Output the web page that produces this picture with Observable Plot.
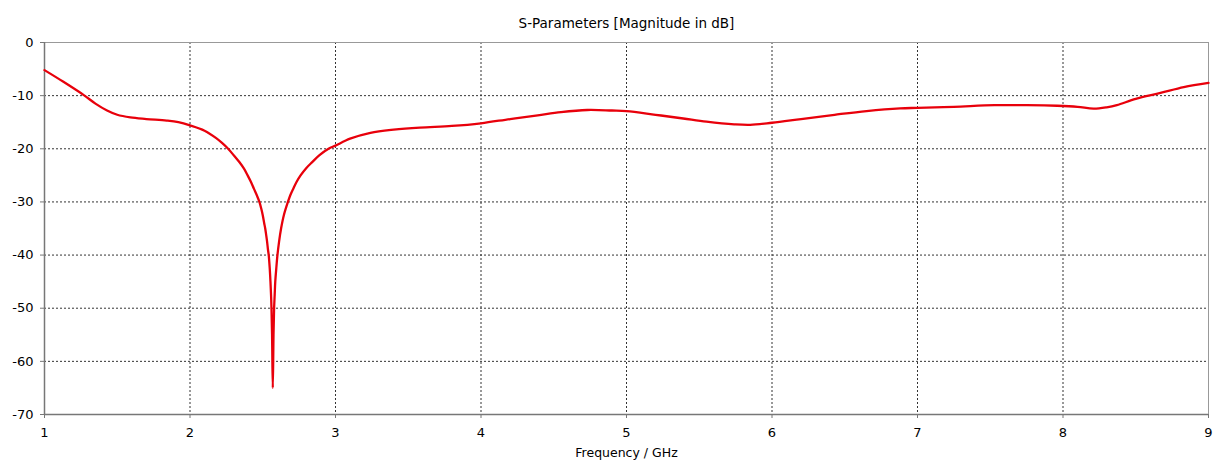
<!DOCTYPE html>
<html>
<head>
<meta charset="utf-8">
<script src="https://cdn.jsdelivr.net/npm/d3@7"></script>
<script src="https://cdn.jsdelivr.net/npm/@observablehq/plot@0.6"></script>
<style>
  html, body { margin: 0; padding: 0; background: #fff; }
</style>
</head>
<body>
<div id="chart"></div>
<script>
const chartTitle = "S-Parameters [Magnitude in dB]";
const xLabel = "Frequency / GHz";
const xTicks = [1, 2, 3, 4, 5, 6, 7, 8, 9];
const yTicks = [0, -10, -20, -30, -40, -50, -60, -70];

const freq = [1.0, 1.13, 1.27, 1.35, 1.43, 1.5, 1.59, 1.7, 1.84, 1.92, 2.0, 2.1, 2.18, 2.22, 2.262, 2.30, 2.339, 2.37, 2.396, 2.42, 2.439, 2.46, 2.477,
  2.49, 2.50, 2.51, 2.517, 2.524, 2.530, 2.536, 2.541, 2.548, 2.553, 2.557, 2.560, 2.564, 2.569,
  2.574, 2.578, 2.582, 2.586, 2.593, 2.601, 2.612, 2.626, 2.645, 2.673, 2.69, 2.71, 2.733, 2.76, 2.80, 2.84, 2.89, 2.952,
  3.0, 3.1, 3.24, 3.4, 3.58, 3.8, 4.0, 4.2, 4.39, 4.55, 4.73, 4.9, 5.0, 5.2, 5.39, 5.55, 5.74, 5.85, 6.0, 6.2, 6.43,
  6.65, 6.88, 7.0, 7.25, 7.53, 7.75, 7.96, 8.1, 8.21, 8.3, 8.37, 8.5, 8.67, 8.83, 9.0];
const s11 = [-5.2, -7.4, -9.9, -11.5, -12.8, -13.6, -14.1, -14.4, -14.7, -15.0, -15.6, -16.6, -18.0, -18.9, -20.0, -21.2, -22.5, -23.7, -25.0, -26.3, -27.5, -28.8, -30.0,
  -31.3, -32.5, -34.0, -35.0, -36.3, -37.5, -39.0, -40.0, -42.5, -45.0, -47.5, -50.0, -55.0, -65.0,
  -55.0, -50.0, -47.5, -45.0, -42.5, -40.0, -37.5, -35.0, -32.5, -30.0, -28.7, -27.5, -26.2, -25.0, -23.6, -22.5, -21.2, -20.0,
  -19.4, -18.1, -17.0, -16.4, -16.0, -15.7, -15.2, -14.4, -13.7, -13.1, -12.7, -12.8, -12.9, -13.6, -14.3, -14.9, -15.4, -15.5, -15.1, -14.4, -13.6,
  -12.9, -12.4, -12.3, -12.1, -11.8, -11.8, -11.9, -12.1, -12.45, -12.2, -11.8, -10.6, -9.5, -8.4, -7.6];

const data = freq.map((f, i) => ({f, db: s11[i]}));
const fmt = d => String(d);

const chart = Plot.plot({
  width: 1221,
  height: 469,
  marginTop: 42,
  marginLeft: 44,
  marginRight: 13,
  marginBottom: 55,
  style: {fontFamily: "DejaVu Sans", fontSize: "13px", color: "#000", background: "#fff"},
  x: {domain: [1, 9], label: null},
  y: {domain: [-70, 0], label: null},
  marks: [
    Plot.gridX(xTicks, {stroke: "#333", strokeOpacity: 1, strokeDasharray: "2,2"}),
    Plot.gridY(yTicks, {stroke: "#333", strokeOpacity: 1, strokeDasharray: "2,2"}),
    Plot.frame({stroke: "#999"}),
    Plot.ruleX([1], {stroke: "#777", strokeWidth: 1.5}),
    Plot.ruleY([-70], {stroke: "#777", strokeWidth: 1.5}),
    Plot.axisX(xTicks, {tickSize: 4, tickPadding: 9, stroke: "#777", label: null, fontSize: 13, tickFormat: fmt}),
    Plot.axisY(yTicks, {tickSize: 4, tickPadding: 7, stroke: "#777", label: null, fontSize: 13, tickFormat: fmt}),
    Plot.line(data, {x: "f", y: "db", stroke: "#e8000b", strokeWidth: 2.3, curve: "catmull-rom"}),
    Plot.text([chartTitle], {frameAnchor: "top", dy: -24, fontSize: 13.5, fill: "#000"}),
    Plot.text([xLabel], {frameAnchor: "bottom", dy: 42, fontSize: 12.5, fill: "#000"})
  ]
});
document.getElementById("chart").appendChild(chart);
</script>
</body>
</html>
